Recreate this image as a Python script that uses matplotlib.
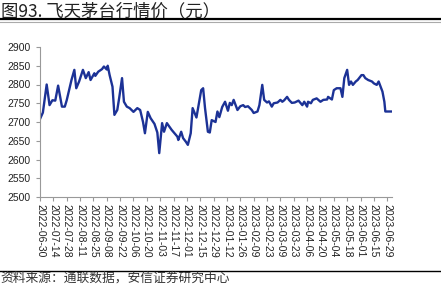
import matplotlib.pyplot as plt
import matplotlib.dates as mdates
import numpy as np
import pandas as pd
from matplotlib.lines import Line2D

plt.rcParams['font.family'] = ['Liberation Sans', 'Noto Sans CJK SC', 'DejaVu Sans']

# days since 2022-06-30 and price (yuan)
days = [0, 3, 7, 10, 13, 16, 19, 23, 26, 28, 33, 36, 38, 41, 45, 48, 51, 53, 57, 58,
        61, 65, 67, 70, 71, 73, 76, 78, 81, 83, 86, 88, 91, 94, 98, 102, 105, 108, 110, 113,
        116, 120, 123, 125, 128, 130, 133, 135, 138, 141, 144, 145, 148, 150, 153, 155, 158, 160, 164, 166,
        169, 171, 173, 176, 178, 180, 184, 186, 188, 191, 194, 197, 199, 201, 203, 207, 210, 213, 215, 218,
        222, 224, 228, 230, 233, 235, 238, 240, 243, 245, 249, 252, 254, 256, 259, 261, 264, 267, 271, 273,
        275, 277, 280, 281, 284, 286, 290, 294, 297, 301, 302, 306, 308, 311, 315, 317, 319, 322, 324, 326,
        328, 331, 333, 337, 339, 341, 344, 348, 350, 353, 355, 359, 361, 362, 365, 368]
price = [2708, 2725, 2800, 2745, 2758, 2757, 2797, 2741, 2741, 2758, 2812, 2839, 2790, 2808, 2839, 2817, 2833, 2812, 2830, 2823,
         2834, 2841, 2848, 2840, 2850, 2825, 2794, 2719, 2732, 2764, 2817, 2754, 2741, 2737, 2727, 2737, 2732, 2700, 2670, 2727,
         2710, 2695, 2672, 2617, 2697, 2674, 2697, 2690, 2679, 2670, 2661, 2652, 2674, 2657, 2647, 2639, 2670, 2737, 2712, 2741,
         2785, 2790, 2737, 2674, 2672, 2705, 2700, 2728, 2713, 2740, 2754, 2730, 2751, 2745, 2759, 2732, 2742, 2745, 2740, 2742,
         2732, 2724, 2728, 2745, 2799, 2759, 2752, 2755, 2741, 2750, 2752, 2759, 2754, 2758, 2767, 2759, 2751, 2752, 2757, 2751,
         2745, 2754, 2741, 2754, 2750, 2759, 2763, 2754, 2759, 2760, 2767, 2760, 2785, 2790, 2790, 2767, 2817, 2839, 2799, 2808,
         2799, 2808, 2812, 2825, 2825, 2817, 2812, 2808, 2803, 2799, 2808, 2781, 2754, 2728, 2728, 2728]

start = pd.Timestamp('2022-06-30')
dates = start + pd.to_timedelta(days, unit='D')
tick_dates = pd.date_range('2022-06-30', '2023-06-29', freq='14D')

fig = plt.figure(figsize=(4.41, 3.05), dpi=100)
ax = fig.add_axes([40/441, 1 - 197/305, 352/441, 150/305])

ax.plot(dates, price, color='#1c3296', lw=1.7)

ax.set_ylim(2500, 2900)
ax.set_yticks(np.arange(2500, 2901, 50))
ax.set_xlim(start, start + pd.Timedelta(days=369))
ax.set_xticks(tick_dates)
ax.xaxis.set_major_formatter(mdates.DateFormatter('%Y-%m-%d'))
plt.setp(ax.get_xticklabels(), rotation=-90, ha='center', va='top')

for s in ['top', 'right']:
    ax.spines[s].set_visible(False)
for s in ['left', 'bottom']:
    ax.spines[s].set_color('#999999')
    ax.spines[s].set_linewidth(0.8)
ax.tick_params(axis='both', colors='#999999', labelcolor='#222222', labelsize=7.5,
               length=3, width=0.8, direction='out')
ax.tick_params(axis='x', pad=2)

# header and footer
fig.text(0.002, 1 - 16/305, '图93. 飞天茅台行情价（元）', fontsize=12.5, va='baseline', ha='left',
         color='#222222', family=['Noto Sans CJK SC', 'DejaVu Sans'])
fig.add_artist(Line2D([0, 1], [1 - 18.5/305] * 2, color='black', lw=1.6))
fig.add_artist(Line2D([0, 1], [1 - 22/305] * 2, color='#aaaaaa', lw=0.8))
fig.add_artist(Line2D([0, 1], [1 - 271/305] * 2, color='black', lw=1.0))
fig.text(0.0, 1 - 278/305, '资料来源：通联数据，安信证券研究中心', fontsize=9.2, va='center', ha='left',
         color='#333333', family=['Noto Sans CJK SC', 'DejaVu Sans'])

fig.savefig('out.png', dpi=100)
